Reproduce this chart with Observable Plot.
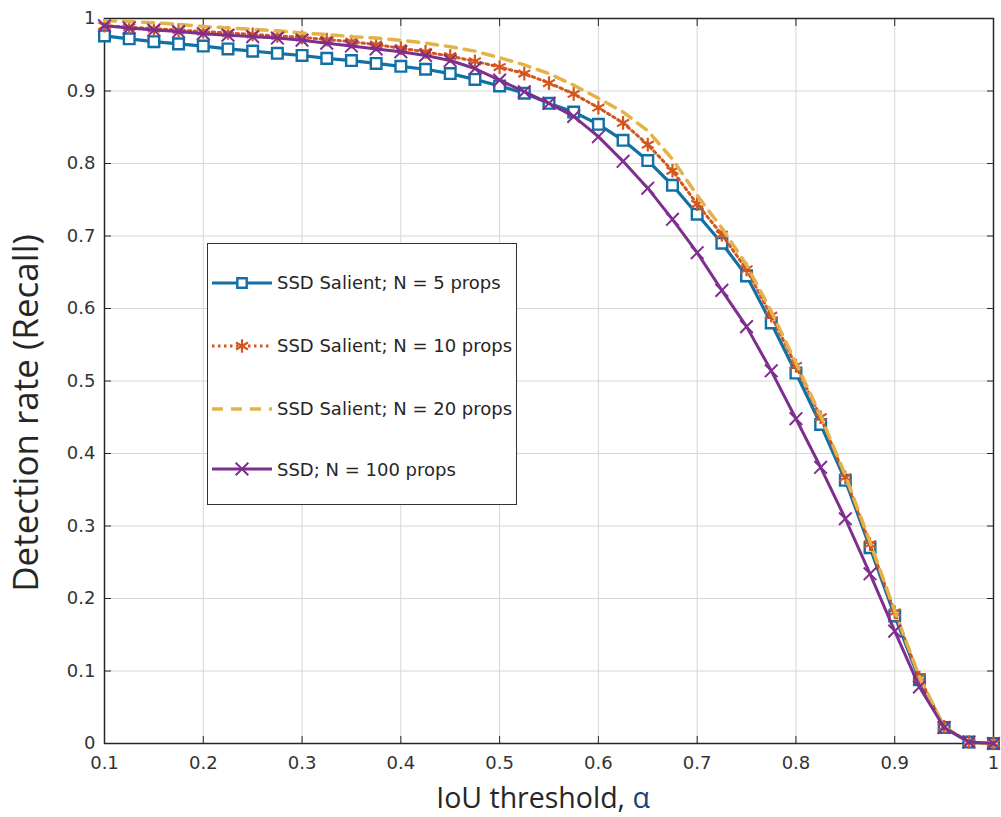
<!DOCTYPE html>
<html><head><meta charset="utf-8">
<script src="https://cdn.jsdelivr.net/npm/d3@7"></script>
<script src="https://cdn.jsdelivr.net/npm/@observablehq/plot@0.6"></script>
<style>
html,body{margin:0;padding:0;background:#fff;}
#wrap{position:relative;width:1001px;height:817px;}
#legend{position:absolute;left:207px;top:243px;width:310px;height:262px;border:1.5px solid #333;background:#fff;box-sizing:border-box;font-family:"DejaVu Sans";font-size:18px;color:#262626;}
.row{position:absolute;left:3px;height:24px;display:flex;align-items:center;white-space:nowrap;}
.row svg{margin-right:4px;}
</style></head><body><div id="wrap"><div id="legend"></div></div>
<script>
const xs = [0.1,0.125,0.15,0.175,0.2,0.225,0.25,0.275,0.3,0.325,0.35,0.375,0.4,0.425,0.45,0.475,0.5,0.525,0.55,0.575,0.6,0.625,0.65,0.675,0.7,0.725,0.75,0.775,0.8,0.825,0.85,0.875,0.9,0.925,0.95,0.975,1.0];
const ssdSal5 = [0.976,0.972,0.968,0.965,0.962,0.958,0.955,0.952,0.949,0.945,0.942,0.938,0.934,0.930,0.924,0.916,0.907,0.897,0.883,0.871,0.854,0.832,0.804,0.770,0.730,0.690,0.645,0.580,0.511,0.440,0.363,0.270,0.176,0.088,0.022,0.002,0.000];
const ssdSal10 = [0.990,0.988,0.986,0.984,0.982,0.980,0.978,0.976,0.974,0.971,0.968,0.964,0.959,0.954,0.948,0.941,0.933,0.924,0.911,0.896,0.877,0.856,0.826,0.790,0.744,0.702,0.654,0.590,0.521,0.450,0.367,0.275,0.181,0.091,0.023,0.002,0.000];
const ssdSal20 = [0.997,0.996,0.994,0.992,0.989,0.987,0.985,0.983,0.980,0.978,0.975,0.973,0.970,0.966,0.961,0.955,0.946,0.936,0.924,0.908,0.890,0.871,0.845,0.806,0.756,0.711,0.660,0.596,0.525,0.452,0.370,0.278,0.183,0.092,0.023,0.002,0.000];
const ssd100 = [0.990,0.987,0.984,0.982,0.979,0.977,0.975,0.973,0.970,0.966,0.962,0.958,0.954,0.949,0.942,0.931,0.915,0.899,0.883,0.865,0.837,0.803,0.766,0.723,0.677,0.625,0.575,0.514,0.448,0.381,0.310,0.234,0.155,0.078,0.022,0.002,0.000];
const seriesNames = ["SSD Salient; N = 5 props","SSD Salient; N = 10 props","SSD Salient; N = 20 props","SSD; N = 100 props"];
const xTicks = [0.1,0.2,0.3,0.4,0.5,0.6,0.7,0.8,0.9,1];
const xTickLabels = ["0.1","0.2","0.3","0.4","0.5","0.6","0.7","0.8","0.9","1"];
const yTicks = [0,0.1,0.2,0.3,0.4,0.5,0.6,0.7,0.8,0.9,1];
const yTickLabels = ["0","0.1","0.2","0.3","0.4","0.5","0.6","0.7","0.8","0.9","1"];
const xLabel = "IoU threshold, α";
const yLabel = "Detection rate (Recall)";

const C = {blue:"#1170a5", orange:"#d4561e", yellow:"#e3b34a", purple:"#7e2f8e"};
const styles = [
  {stroke:C.blue, strokeWidth:3.2, dash:null, symbol:"square", r:6, sw:2.4},
  {stroke:C.orange, strokeWidth:3, dash:"2.5 3.5", symbol:"asterisk", r:6.5, sw:2.2},
  {stroke:C.yellow, strokeWidth:3.5, dash:"11 8", symbol:null},
  {stroke:C.purple, strokeWidth:3, dash:null, symbol:"times", r:5.8, sw:2}
];
const allVals = [ssdSal5, ssdSal10, ssdSal20, ssd100];
const data = allVals.map(v => xs.map((x,i) => ({x, y:v[i]})));

const marks = [
  Plot.gridX(xTicks, {stroke:"#d6d6d6", strokeOpacity:1, strokeWidth:1}),
  Plot.gridY(yTicks, {stroke:"#d6d6d6", strokeOpacity:1, strokeWidth:1}),
  Plot.frame({stroke:"#262626", strokeWidth:1.5}),
  Plot.axisX(xTicks, {anchor:"bottom", tickSize:-7, tickPadding:20, tickFormat:(d)=>xTickLabels[xTicks.indexOf(d)], label:null, fontSize:18, fill:"#333"}),
  Plot.axisX(xTicks, {anchor:"top", tickSize:-7, tickFormat:()=>"", label:null}),
  Plot.axisY(yTicks, {anchor:"left", tickSize:-7, tickPadding:16, tickFormat:(d)=>yTickLabels[yTicks.indexOf(d)], label:null, fontSize:18, fill:"#333"}),
  Plot.axisY(yTicks, {anchor:"right", tickSize:-7, tickFormat:()=>"", label:null}),
];
data.forEach((d,k) => {
  const s = styles[k];
  marks.push(Plot.line(d, {x:"x", y:"y", stroke:s.stroke, strokeWidth:s.strokeWidth, strokeDasharray:s.dash}));
  if (s.symbol) marks.push(Plot.dot(d, {x:"x", y:"y", symbol:s.symbol, r:s.r, stroke:s.stroke, strokeWidth:s.sw, fill:s.symbol==="square"?"white":"none"}));
});
marks.push(Plot.text([yLabel], {frameAnchor:"left", rotate:-90, dx:-78, dy:32, fontSize:35, fontFamily:"Open Sans", fill:"#262626", textAnchor:"middle", lineAnchor:"middle"}));
marks.push(Plot.text([xLabel], {frameAnchor:"bottom", dx:-6, dy:55, fontSize:28.5, fontFamily:"Open Sans", fill:"#262626", textAnchor:"middle", lineAnchor:"middle"}));

const chart = Plot.plot({
  width:1001, height:817,
  marginLeft:104, marginRight:8, marginTop:18, marginBottom:74,
  x:{domain:[0.1,1]}, y:{domain:[0,1]},
  style:{fontFamily:"DejaVu Sans", fontSize:"18px", color:"#262626", background:"#fff"},
  marks
});
document.getElementById("wrap").prepend(chart);
// colour the alpha in the x label
d3.select(chart).selectAll("text").each(function(){
  if (this.textContent === xLabel) {
    this.textContent = "IoU threshold, ";
    d3.select(this).append("tspan").attr("fill","#22407a").text("α");
  }
});

// legend
const legend = d3.select("#legend");
const rowsY = [38.5, 101.5, 164.5, 225];
styles.forEach((s,k) => {
  const row = legend.append("div").attr("class","row").style("top",(rowsY[k]-12)+"px");
  const svg = row.append("svg").attr("width",62).attr("height",24);
  svg.append("line").attr("x1",1).attr("x2",61).attr("y1",12).attr("y2",12)
    .attr("stroke",s.stroke).attr("stroke-width",s.strokeWidth).attr("stroke-dasharray",s.dash);
  if (s.symbol) {
    const sym = {square:d3.symbolSquare2, asterisk:d3.symbolAsterisk, times:d3.symbolTimes}[s.symbol];
    const size = Math.PI*s.r*s.r;
    svg.append("path").attr("transform","translate(31,12)").attr("d", d3.symbol(sym, size)())
      .attr("stroke",s.stroke).attr("stroke-width",s.sw).attr("fill",s.symbol==="square"?"white":"none");
  }
  row.append("span").text(seriesNames[k]);
});
</script></body></html>
